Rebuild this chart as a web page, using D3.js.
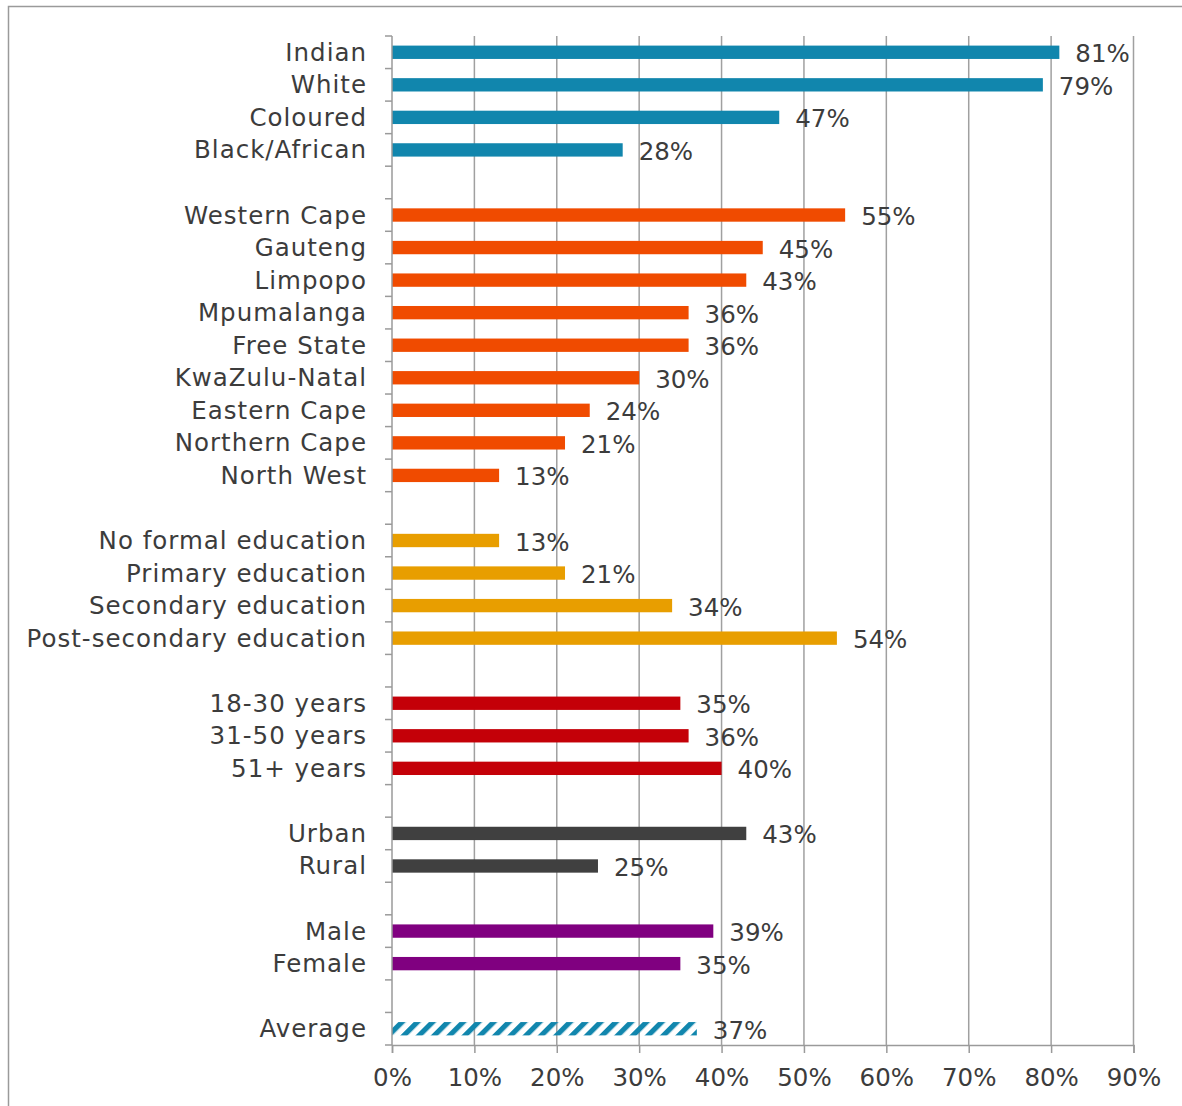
<!DOCTYPE html>
<html>
<head>
<meta charset="utf-8">
<script src="https://cdn.jsdelivr.net/npm/d3@7/dist/d3.min.js"></script>
<style>
  html, body { margin: 0; padding: 0; background: #fff; }
  svg { display: block; }
  text { font-family: "DejaVu Sans", sans-serif; fill: #3c3c3c; }
  .cat { letter-spacing: 1px; }
  .val { letter-spacing: 0px; }
</style>
</head>
<body>
<svg id="chart" width="1182" height="1106"></svg>
<script>
// ---- data ----
const categories = [
  "Indian", "White", "Coloured", "Black/African", "",
  "Western Cape", "Gauteng", "Limpopo", "Mpumalanga", "Free State",
  "KwaZulu-Natal", "Eastern Cape", "Northern Cape", "North West", "",
  "No formal education", "Primary education", "Secondary education", "Post-secondary education", "",
  "18-30 years", "31-50 years", "51+ years", "",
  "Urban", "Rural", "",
  "Male", "Female", "",
  "Average"
];
const values = [
  81, 79, 47, 28, null,
  55, 45, 43, 36, 36, 30, 24, 21, 13, null,
  13, 21, 34, 54, null,
  35, 36, 40, null,
  43, 25, null,
  39, 35, null,
  37
];
const groups = [
  "race", "race", "race", "race", null,
  "province", "province", "province", "province", "province", "province", "province", "province", "province", null,
  "education", "education", "education", "education", null,
  "age", "age", "age", null,
  "area", "area", null,
  "gender", "gender", null,
  "average"
];
const xTicks = [0, 10, 20, 30, 40, 50, 60, 70, 80, 90];

// ---- styles ----
const groupColor = {
  race: "#1186ad",
  province: "#f04b00",
  education: "#e89e00",
  age: "#c40008",
  area: "#404040",
  gender: "#800080",
  average: "url(#hatch)"
};
const FONT = 24.5;

const svg = d3.select("#chart");

// frame
svg.append("rect")
  .attr("x", 8.5).attr("y", 6.5)
  .attr("width", 1300).attr("height", 1300)
  .attr("fill", "none").attr("stroke", "#9a9a9a").attr("stroke-width", 1.5);

// pattern for the average bar
const defs = svg.append("defs");
const pat = defs.append("pattern")
  .attr("id", "hatch")
  .attr("patternUnits", "userSpaceOnUse")
  .attr("width", 10.8).attr("height", 10.8)
  .attr("patternTransform", "rotate(45)");
pat.append("rect").attr("x", 0).attr("y", 0).attr("width", 5.2).attr("height", 10.8).attr("fill", "#1186ad");

const x = d3.scaleLinear().domain([0, 90]).range([392, 1133.5]);
const y = d3.scaleBand().domain(categories.map((d, i) => i)).range([36, 1045]).padding(0);

// gridlines
svg.append("g").selectAll("line")
  .data(xTicks.filter(t => t > 0))
  .join("line")
  .attr("x1", d => x(d)).attr("x2", d => x(d))
  .attr("y1", 36).attr("y2", 1045)
  .attr("stroke", "#a0a0a0").attr("stroke-width", 1.5);

// bars
const barH = y.bandwidth() * 0.41;
svg.append("g").selectAll("rect")
  .data(categories.map((c, i) => ({ c, i, v: values[i], g: groups[i] })).filter(d => d.v != null))
  .join("rect")
  .attr("x", x(0))
  .attr("y", d => y(d.i) + (y.bandwidth() - barH) / 2)
  .attr("width", d => x(d.v) - x(0))
  .attr("height", barH)
  .attr("fill", d => groupColor[d.g]);

// value labels
svg.append("g").selectAll("text")
  .data(categories.map((c, i) => ({ i, v: values[i] })).filter(d => d.v != null))
  .join("text")
  .attr("class", "val")
  .attr("x", d => x(d.v) + 16)
  .attr("y", d => y(d.i) + y.bandwidth() / 2 + 10)
  .attr("font-size", FONT)
  .text(d => d.v + "%");

// y axis (band boundary ticks)
const yAxisG = svg.append("g");
yAxisG.append("line")
  .attr("x1", 392).attr("x2", 392).attr("y1", 36).attr("y2", 1045)
  .attr("stroke", "#9a9a9a").attr("stroke-width", 1.5);
const bounds = categories.map((d, i) => y(i)).concat([y(categories.length - 1) + y.bandwidth()]);
yAxisG.selectAll("line.tk")
  .data(bounds)
  .join("line").attr("class", "tk")
  .attr("x1", 385).attr("x2", 392)
  .attr("y1", d => d).attr("y2", d => d)
  .attr("stroke", "#9a9a9a").attr("stroke-width", 1.5);
yAxisG.selectAll("text")
  .data(categories.map((c, i) => ({ c, i })).filter(d => d.c !== ""))
  .join("text")
  .attr("class", "cat")
  .attr("x", 367)
  .attr("y", d => y(d.i) + y.bandwidth() / 2 + 8.5)
  .attr("text-anchor", "end")
  .attr("font-size", FONT)
  .text(d => d.c);

// x axis
const xAxis = d3.axisBottom(x).tickValues(xTicks).tickFormat(d => d + "%").tickSize(8).tickPadding(16);
const xg = svg.append("g").attr("transform", "translate(0,1045)").call(xAxis);
xg.select(".domain").attr("stroke", "#9a9a9a").attr("stroke-width", 1.5);
xg.selectAll(".tick line").attr("stroke", "#9a9a9a").attr("stroke-width", 1.5);
xg.selectAll(".tick text").attr("font-size", FONT).attr("fill", "#3c3c3c")
  .attr("font-family", "'DejaVu Sans', sans-serif");
</script>
</body>
</html>
